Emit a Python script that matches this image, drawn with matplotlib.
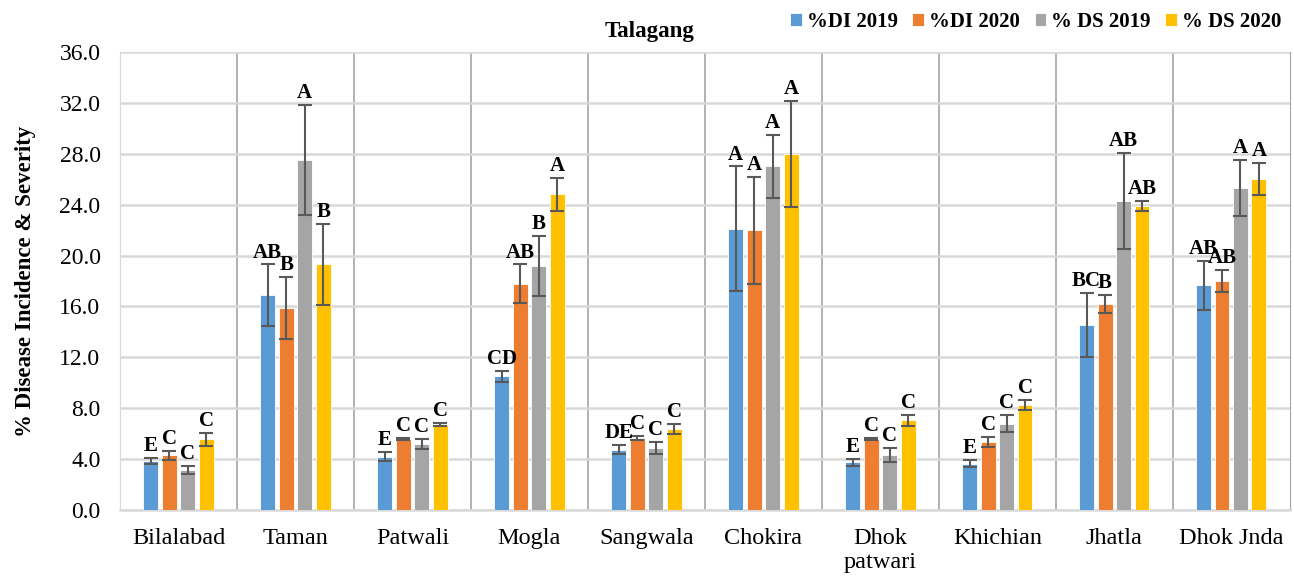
import matplotlib.pyplot as plt
import numpy as np

plt.rcParams['font.family'] = ['Liberation Serif', 'DejaVu Serif']

sites = ['Bilalabad', 'Taman', 'Patwali', 'Mogla', 'Sangwala', 'Chokira',
         'Dhok\npatwari', 'Khichian', 'Jhatla', 'Dhok Jnda']
series = ['%DI 2019', '%DI 2020', '% DS 2019', '% DS 2020']
colors = ['#5B9BD5', '#ED7D31', '#A5A5A5', '#FFC000']

# means
di_2019 = [3.85, 16.9, 4.2, 10.5, 4.75, 22.1, 3.75, 3.65, 14.55, 17.65]
di_2020 = [4.3, 15.9, 5.6, 17.8, 5.65, 22.0, 5.6, 5.35, 16.2, 18.0]
ds_2019 = [3.15, 27.5, 5.2, 19.2, 4.85, 27.0, 4.3, 6.8, 24.3, 25.3]
ds_2020 = [5.55, 19.3, 6.7, 24.8, 6.4, 28.0, 7.05, 8.25, 23.9, 26.0]

# error bar half-lengths
err_di_2019 = [0.25, 2.4, 0.35, 0.4, 0.37, 4.9, 0.3, 0.3, 2.5, 1.95]
err_di_2020 = [0.35, 2.45, 0.1, 1.5, 0.15, 4.2, 0.1, 0.42, 0.7, 0.85]
err_ds_2019 = [0.35, 4.3, 0.37, 2.35, 0.47, 2.45, 0.55, 0.65, 3.75, 2.2]
err_ds_2020 = [0.5, 3.2, 0.12, 1.3, 0.4, 4.15, 0.45, 0.37, 0.4, 1.25]

# significance letters
let_di_2019 = ['E', 'AB', 'E', 'CD', 'DE', 'A', 'E', 'E', 'BC', 'AB']
let_di_2020 = ['C', 'B', 'C', 'AB', 'C', 'A', 'C', 'C', 'B', 'AB']
let_ds_2019 = ['C', 'A', 'C', 'B', 'C', 'A', 'C', 'C', 'AB', 'A']
let_ds_2020 = ['C', 'B', 'C', 'A', 'C', 'A', 'C', 'C', 'AB', 'A']

means = [di_2019, di_2020, ds_2019, ds_2020]
errs = [err_di_2019, err_di_2020, err_ds_2019, err_ds_2020]
letters = [let_di_2019, let_di_2020, let_ds_2019, let_ds_2020]

fig = plt.figure(figsize=(12.94, 5.77), dpi=100)
ax = fig.add_axes([0.0927, 0.116, 0.904, 0.794])

x = np.arange(len(sites))
step = 0.158
width = 0.128

for i in range(4):
    pos = x + (i - 1.5) * step
    ax.bar(pos, means[i], width, color=colors[i], edgecolor='white',
           linewidth=0.6, label=series[i], zorder=3)
    ax.errorbar(pos, means[i], yerr=errs[i], fmt='none', ecolor='#595959',
                elinewidth=1.5, capsize=5, capthick=1.5, zorder=4)
    for p, m, e, t in zip(pos, means[i], errs[i], letters[i]):
        ax.text(p, m + e + 0.15, t, ha='center', va='bottom',
                fontsize=15, fontweight='bold', zorder=5)

ax.set_xlim(-0.5, len(sites) - 0.5)
ax.set_ylim(0, 36)
ax.set_yticks(np.arange(0, 36.1, 4))
ax.set_yticklabels(['%.1f' % v for v in np.arange(0, 36.1, 4)])
ax.set_xticks(x)
ax.set_xticklabels(sites, linespacing=1.15)
ax.tick_params(axis='both', length=0)
ax.tick_params(axis='y', labelsize=17, pad=14)
ax.tick_params(axis='x', labelsize=17.5, pad=13)

ax.yaxis.grid(True, color='#d9d9d9', linewidth=1.8, zorder=0)
for b in np.arange(0.5, len(sites) - 0.5, 1):
    ax.axvline(b, color='#a6a6a6', linewidth=1.2, zorder=1)

ax.spines['top'].set_visible(False)
ax.spines['left'].set_color('#d9d9d9')
ax.spines['right'].set_color('#a6a6a6')
ax.spines['bottom'].set_color('#d9d9d9')
ax.spines['bottom'].set_linewidth(1.8)

ax.set_ylabel('% Disease Incidence & Severity', fontsize=16.5, fontweight='bold')
ax.yaxis.set_label_coords(-0.072, 0.5)

fig.text(0.502, 0.945, 'Talagang', ha='center', va='center', fontsize=16.5,
         fontweight='bold')
ax.legend(loc='lower right', bbox_to_anchor=(1.0, 1.025), ncol=4, frameon=False,
          prop={'weight': 'bold', 'size': 15}, handlelength=0.55,
          handleheight=0.55, handletextpad=0.25, columnspacing=0.7,
          borderaxespad=0)

fig.savefig('out.png', dpi=100)
